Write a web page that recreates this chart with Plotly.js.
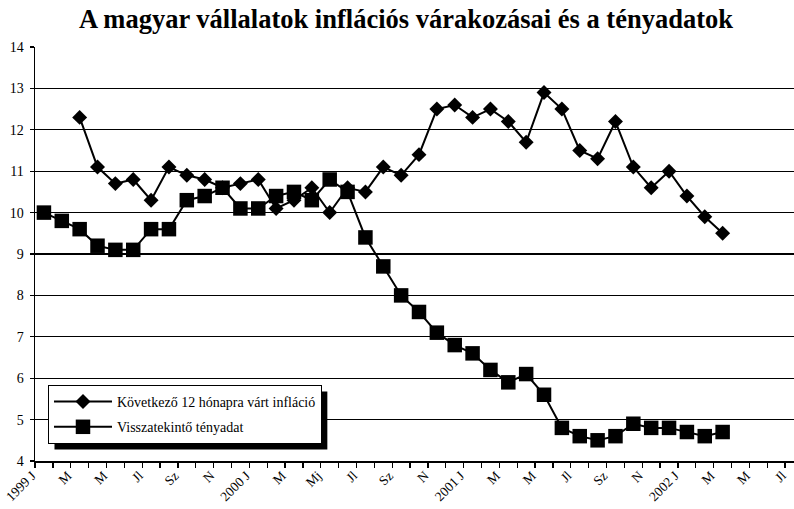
<!DOCTYPE html>
<html><head><meta charset="utf-8">
<script src="https://cdn.plot.ly/plotly-3.0.1.min.js"></script>
<style>html,body{margin:0;padding:0;overflow:hidden;background:#fff}</style>
</head><body><div id="chart"></div>
<script>
// Month-by-month categories: 1999 Jan .. 2002 Jul (43 months); labels every other month
const tickLabels = ['1999 J','M','M','Jl','Sz','N','2000 J','M','Mj','Jl','Sz','N','2001 J','M','M','Jl','Sz','N','2002 J','M','M','Jl'];
const nMonths = 43;
// Következő 12 hónapra várt infláció (starts March 1999)
const expected = [null,null,12.3,11.1,10.7,10.8,10.3,11.1,10.9,10.8,10.6,10.7,10.8,10.1,10.3,10.6,10.0,10.6,10.5,11.1,10.9,11.4,12.5,12.6,12.3,12.5,12.2,11.7,12.9,12.5,11.5,11.3,12.2,11.1,10.6,11.0,10.4,9.9,9.5];
// Visszatekintő tényadat
const actual = [10.0,9.8,9.6,9.2,9.1,9.1,9.6,9.6,10.3,10.4,10.6,10.1,10.1,10.4,10.5,10.3,10.8,10.5,9.4,8.7,8.0,7.6,7.1,6.8,6.6,6.2,5.9,6.1,5.6,4.8,4.6,4.5,4.6,4.9,4.8,4.8,4.7,4.6,4.7];
const seriesNames = ['Következő 12 hónapra várt infláció','Visszatekintő tényadat'];

const idx = a => a.map((_, i) => i);
const tickVals = tickLabels.map((_, i) => i * 2);

const W = 820, H = 509;
const L = 35, T = 47, B = 48;
const plotW = 768.4, plotH = H - T - B;
const R = W - L - plotW;
const px2x = p => (p - L) / plotW;
const py2y = p => (H - B - p) / plotH;

const serif = 'Liberation Serif, Times New Roman, serif';

const traces = [
  {x: idx(expected), y: expected, name: seriesNames[0], legendgroup: 'a', mode: 'lines+markers',
   line: {color: '#000', width: 2}, marker: {symbol: 'diamond', size: 11.5, color: '#000'}},
  {x: idx(actual), y: actual, name: seriesNames[1], legendgroup: 'b', mode: 'lines+markers',
   line: {color: '#000', width: 2}, marker: {symbol: 'square', size: 14.5, color: '#000'}}
];

const layout = {
  width: W, height: H,
  margin: {l: L, r: R, t: T, b: B},
  paper_bgcolor: '#fff', plot_bgcolor: '#fff',
  font: {family: serif, color: '#000', size: 13},
  title: {text: '<b>A magyar vállalatok inflációs várakozásai és a tényadatok</b>',
    font: {family: serif, size: 26.5, color: '#000'},
    x: 406 / W, xanchor: 'center', xref: 'container', y: 1 - 18.5 / H, yanchor: 'middle', yref: 'container'},
  xaxis: {range: [-0.5, nMonths - 0.5], tickmode: 'array', tickvals: tickVals, ticktext: tickLabels,
    tickangle: -45, ticks: '', showgrid: false, zeroline: false, ticklabelshift: -12,
    showline: true, linecolor: '#000', linewidth: 1.5,
    tickfont: {family: serif, size: 13.5, color: '#000'},
    minor: {tickmode: 'linear', tick0: -0.5, dtick: 1, ticks: 'outside', ticklen: 5, tickwidth: 1.3, tickcolor: '#000', showgrid: false}},
  yaxis: {range: [4, 14], dtick: 1, tick0: 4, ticks: 'outside', ticklen: 4, tickcolor: '#000', tickwidth: 1.3,
    showgrid: true, gridcolor: '#000', gridwidth: 1.3, zeroline: false, ticklabelstandoff: 3,
    showline: true, linecolor: '#000', linewidth: 1.5,
    tickfont: {family: serif, size: 14, color: '#000'}},
  showlegend: true,
  legend: {x: px2x(48), y: py2y(385), xanchor: 'left', yanchor: 'top',
    bgcolor: '#fff', bordercolor: '#000', borderwidth: 1,
    font: {family: serif, size: 14, color: '#000'}, itemwidth: 58,
    traceorder: 'grouped', tracegroupgap: 4}
};

Plotly.newPlot('chart', traces, layout, {staticPlot: true, displayModeBar: false}).then(gd => {
  // drop shadow behind legend box, sized from the rendered legend
  const bg = gd.querySelector('.legend .bg');
  if (!bg) return;
  const r = bg.getBoundingClientRect();
  const c = gd.getBoundingClientRect();
  const off = 6;
  const x0 = r.left - c.left + off, x1 = r.right - c.left + off;
  const y0 = r.top - c.top + off, y1 = r.bottom - c.top + off;
  return Plotly.relayout(gd, {shapes: [{type: 'rect', xref: 'paper', yref: 'paper',
    x0: px2x(x0), x1: px2x(x1), y0: py2y(y1), y1: py2y(y0),
    fillcolor: '#000', line: {width: 0}, layer: 'above'}]});
});
</script></body></html>
